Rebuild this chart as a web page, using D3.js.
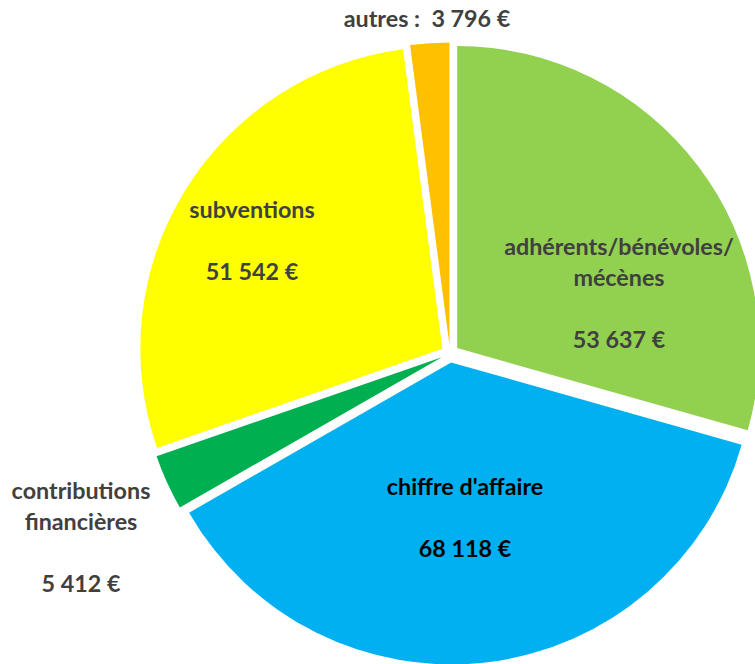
<!DOCTYPE html>
<html>
<head>
<meta charset="utf-8">
<script src="https://cdn.jsdelivr.net/npm/d3@7"></script>
<style>
    html, body { margin: 0; padding: 0; background: #fff; }
    #chart { width: 755px; height: 664px; }
    text { font-family: Lato, "Liberation Sans", sans-serif; font-weight: 700; white-space: pre; }
</style>
</head>
<body>
<div id="chart"></div>
<script>
// chart data
const categories = ['adhérents/bénévoles/ mécènes', "chiffre d'affaire", 'contributions financières', 'subventions', 'autres'];
const values = [53637, 68118, 5412, 51542, 3796];
const colors = ['#92D050', '#00B0F0', '#00B050', '#FFFF00', '#FFC000'];

// label blocks: text lines ('{v}' = value), anchor centre x and first baseline y
const labelLines = [
    ['adhérents/bénévoles/', 'mécènes', '', '{v}'],
    ["chiffre d'affaire", '', '{v}'],
    ['contributions', 'financières', '', '{v}'],
    ['subventions', '', '{v}'],
    ['autres :  {v}']
];
const labelPos = [
    { x: 619, y: 255, color: '#404040' },
    { x: 465, y: 495, color: '#000000' },
    { x: 81, y: 499, color: '#404040' },
    { x: 252, y: 218, color: '#404040' },
    { x: 427, y: 27, color: '#404040' }
];

const width = 755;
const height = 664;
const cx = 450;
const cy = 353.5;
const radius = 302;
const explode = 9;
const lineHeight = 31;

const fr = d3.formatLocale({ decimal: ',', thousands: ' ', grouping: [3], currency: ['', ' €'] });
const fmt = v => fr.format(',')(v) + ' €';

const svg = d3.select('#chart').append('svg')
    .attr('width', width)
    .attr('height', height);

const pie = d3.pie().sort(null).value(d => d);
const arcs = pie(values);

const arc = d3.arc()
    .innerRadius(0)
    .outerRadius(radius);

svg.selectAll('.slice')
    .data(arcs)
    .enter()
    .append('path')
    .attr('class', 'slice')
    .attr('d', arc)
    .attr('fill', (d, i) => colors[i])
    .attr('transform', d => {
        const mid = (d.startAngle + d.endAngle) / 2;
        const ox = Math.sin(mid) * explode;
        const oy = -Math.cos(mid) * explode;
        return `translate(${cx + ox}, ${cy + oy})`;
    });

// labels
labelLines.forEach((lines, i) => {
    const pos = labelPos[i];
    const t = svg.append('text')
        .attr('text-anchor', 'middle')
        .attr('fill', pos.color)
        .style('font-size', '23.3px');
    lines.forEach((line, j) => {
        if (line === '') return;
        t.append('tspan')
            .attr('x', pos.x)
            .attr('y', pos.y + j * lineHeight)
            .text(line.replace('{v}', fmt(values[i])));
    });
});
</script>
</body>
</html>
